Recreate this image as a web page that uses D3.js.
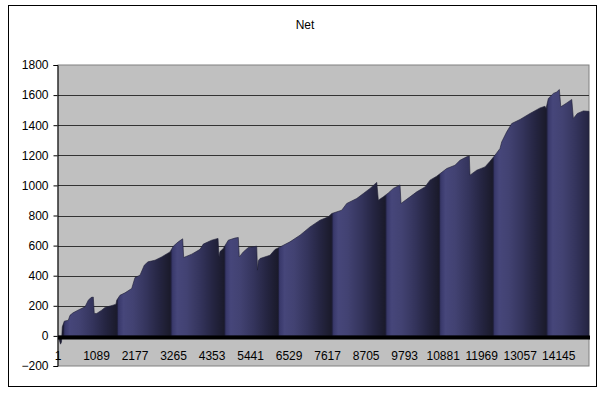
<!DOCTYPE html>
<html><head><meta charset="utf-8">
<script src="https://cdn.jsdelivr.net/npm/d3@7"></script>
<style>
body{margin:0;background:#fff;}
text{font-family:Arial,"Liberation Sans",sans-serif;}
</style></head>
<body>
<svg id="c" width="606" height="396"></svg>
<script>
// ---- data ----
const title = "Net";
const idx = [1,29,72,100,122,179,292,340,425,566,764,857,933,998,1026,1094,1235,1329,1555,1639,1659,1752,1894,2083,2176,2317,2439,2543,2741,2930,3165,3258,3399,3523,3551,3778,4012,4105,4343,4521,4549,4577,4670,4811,5000,5094,5122,5235,5376,5614,5636,5659,5707,5989,6130,6272,6554,6837,7119,7402,7637,7733,8015,8157,8439,8626,8815,9005,9050,9191,9332,9473,9662,9690,9945,10133,10368,10509,10698,10981,11215,11356,11545,11619,11639,11828,12062,12204,12345,12486,12534,12676,12817,13052,13334,13617,13758,13787,13852,13993,14089,14163,14203,14372,14513,14558,14671,14841,15000];
const net = [0,-20,-55,-40,60,98,104,137,153,171,193,237,255,258,149,149,171,189,204,211,237,270,286,315,388,403,470,492,503,525,558,596,625,645,521,543,575,610,636,648,525,560,581,636,650,654,525,558,587,596,437,500,514,536,574,591,625,669,724,769,791,813,835,880,913,946,980,1020,902,924,950,980,1003,880,924,957,990,1035,1061,1112,1134,1167,1190,1195,1068,1101,1123,1160,1201,1245,1289,1356,1411,1438,1478,1515,1526,1511,1578,1611,1621,1637,1522,1548,1571,1445,1478,1495,1492];
const yTicks = [-200,0,200,400,600,800,1000,1200,1400,1600,1800];
const xTickLabels = [1,1089,2177,3265,4353,5441,6529,7617,8705,9793,10881,11969,13057,14145];
const nCategories = 15000;

const svg = d3.select("#c");
const L = 58, R = 589, T = 65, B = 366;
const x = d3.scaleLinear().domain([1, nCategories]).range([L, R]);
const y = d3.scaleLinear().domain([-200, 1800]).range([B, T]);

// outer border
svg.append("rect").attr("x",8.5).attr("y",5.5).attr("width",588).attr("height",381)
  .attr("fill","#fff").attr("stroke","#000").attr("stroke-width",1);

// title
svg.append("text").attr("x",305).attr("y",29).attr("text-anchor","middle")
  .attr("font-size",12).text(title);

// defs: banded gradient pattern
const defs = svg.append("defs");
const g = defs.append("linearGradient").attr("id","band").attr("x1",0).attr("x2",1).attr("y1",0).attr("y2",0);
[[0,"#15152a"],[0.03,"#38386a"],[0.12,"#46467a"],[0.3,"#424272"],[0.55,"#34345c"],[0.8,"#242440"],[1,"#1a1a2a"]]
  .forEach(s=>g.append("stop").attr("offset",s[0]).attr("stop-color",s[1]));
const P = 53.7;
const pat = defs.append("pattern").attr("id","pat").attr("patternUnits","userSpaceOnUse")
  .attr("x",9.5).attr("y",0).attr("width",P).attr("height",396);
pat.append("rect").attr("width",P).attr("height",396).attr("fill","url(#band)");

// plot background
svg.append("rect").attr("x",L).attr("y",T).attr("width",R-L).attr("height",B-T)
  .attr("fill","#c0c0c0").attr("stroke","#808080").attr("stroke-width",1);

// gridlines
svg.append("g").selectAll("line").data(yTicks.filter(d=>d>-200 && d<1800)).join("line")
  .attr("x1",L).attr("x2",R).attr("y1",d=>Math.round(y(d))+0.5).attr("y2",d=>Math.round(y(d))+0.5)
  .attr("stroke","#333").attr("stroke-width",1);

// area
const data = idx.map((d,i)=>({i:d, v:net[i]}));
const area = d3.area().x(d=>x(d.i)).y0(y(0)).y1(d=>y(d.v));
svg.append("path").datum(data).attr("d",area).attr("fill","url(#pat)")
  .attr("stroke","#1c1c34").attr("stroke-width",0.6);

// zero axis (thick)
svg.append("line").attr("x1",L).attr("x2",R+1).attr("y1",y(0)+1.5).attr("y2",y(0)+1.5)
  .attr("stroke","#000").attr("stroke-width",4);

// y axis
const yAxis = d3.axisLeft(y).tickValues(yTicks).tickSize(4).tickPadding(5).tickFormat(d3.format("d"));
const ya = svg.append("g").attr("transform",`translate(${L-0.5},0)`).call(yAxis);
ya.select(".domain").attr("stroke","#000");
ya.selectAll(".tick line").attr("stroke","#000");
ya.selectAll("text").attr("font-size",12).attr("font-family","Arial, 'Liberation Sans', sans-serif").attr("fill","#000");

// x tick labels (inside plot, below zero)
svg.append("g").selectAll("text").data(xTickLabels).join("text")
  .attr("x",d=>x(d)).attr("y",359.5).attr("text-anchor","middle").attr("font-size",12)
  .attr("fill","#000").text(d=>d);
</script>
</body></html>
